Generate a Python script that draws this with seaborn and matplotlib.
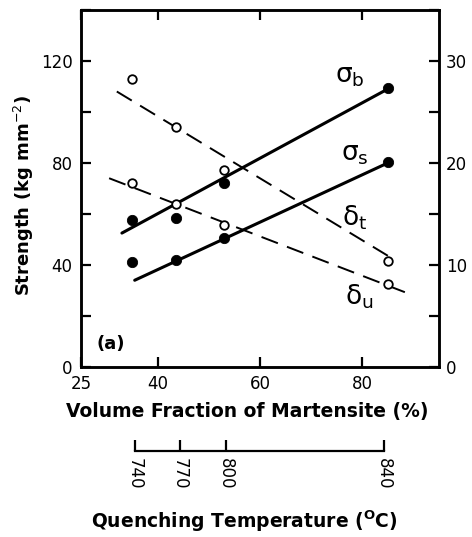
import matplotlib
matplotlib.use("Agg")
import matplotlib.pyplot as plt
import seaborn as sns
import pandas as pd

# measured points (volume fraction of martensite, %)
vol_frac = [35, 43.5, 53, 85]
sigma_b = [57.5, 58.5, 72, 109.5]   # kg mm^-2
sigma_s = [41, 42, 50.5, 80.5]      # kg mm^-2
delta_t = [28.2, 23.5, 19.3, 10.4]  # %
delta_u = [18, 16, 13.9, 8.1]       # %

# fitted lines (end points)
sigma_b_fit_x = [33, 85]
sigma_b_fit_y = [52.5, 109]
sigma_s_fit_x = [35.5, 85]
sigma_s_fit_y = [34, 80]
delta_t_fit_x = [32, 85]
delta_t_fit_y = [27, 10.9]
delta_u_fit_x = [30.5, 89]
delta_u_fit_y = [18.5, 7.2]

# quenching temperature scale and matching volume fractions
quench_temp = [740, 770, 800, 840]
quench_pos = [35.5, 44.3, 53.3, 84.3]

x_ticks = [25, 40, 60, 80]
left_ticks = list(range(0, 141, 20))
right_ticks = list(range(0, 36, 5))

sns.set_style("ticks")
plt.rcParams['font.family'] = ['DejaVu Sans']
plt.rcParams['mathtext.fontset'] = 'dejavusans'
for key in ('text.color', 'axes.labelcolor', 'xtick.color', 'ytick.color',
            'axes.edgecolor'):
    plt.rcParams[key] = 'black'

fig = plt.figure(figsize=(4.72, 5.37), dpi=100)
ax = fig.add_axes([0.1716, 0.3166, 0.7585, 0.665])
ax2 = ax.twinx()

df_pts = pd.DataFrame({'x': vol_frac, 'sb': sigma_b, 'ss': sigma_s,
                       'dt': delta_t, 'du': delta_u})

# strength (left axis)
sns.lineplot(x=sigma_b_fit_x, y=sigma_b_fit_y, ax=ax, color='black', lw=2.2)
sns.lineplot(x=sigma_s_fit_x, y=sigma_s_fit_y, ax=ax, color='black', lw=2.2)
sns.scatterplot(data=df_pts, x='x', y='sb', ax=ax, color='black', s=55,
                edgecolor='black', zorder=3)
sns.scatterplot(data=df_pts, x='x', y='ss', ax=ax, color='black', s=55,
                edgecolor='black', zorder=3)

# elongation (right axis)
sns.lineplot(x=delta_t_fit_x, y=delta_t_fit_y, ax=ax2, color='black', lw=1.4,
             dashes=False, linestyle=(0, (9, 5)))
sns.lineplot(x=delta_u_fit_x, y=delta_u_fit_y, ax=ax2, color='black', lw=1.4,
             dashes=False, linestyle=(0, (9, 5)))
sns.scatterplot(data=df_pts, x='x', y='dt', ax=ax2, facecolor='white',
                edgecolor='black', linewidth=1.3, s=38, zorder=3)
sns.scatterplot(data=df_pts, x='x', y='du', ax=ax2, facecolor='white',
                edgecolor='black', linewidth=1.3, s=38, zorder=3)

ax.set_xlim(25, 95)
ax.set_ylim(0, 140)
ax2.set_ylim(0, 35)

ax.set_xticks(x_ticks)
ax.set_xticklabels([str(v) for v in x_ticks])
ax.set_yticks(left_ticks)
ax.set_yticklabels([str(v) if v % 40 == 0 else '' for v in left_ticks])
ax2.set_yticks(right_ticks)
ax2.set_yticklabels([str(v) if v % 10 == 0 else '' for v in right_ticks])

ax.tick_params(axis='both', direction='in', length=7, width=1.6,
               labelsize=12, top=True, pad=6)
ax2.tick_params(axis='y', direction='in', length=7, width=1.6,
                labelsize=12, pad=5)
for a in (ax, ax2):
    for sp in a.spines.values():
        sp.set_linewidth(1.8)
        sp.set_visible(True)

ax.set_xlabel('Volume Fraction of Martensite (%)', fontsize=13.5,
              fontweight='bold')
ax.xaxis.set_label_coords(0.464, -0.098)
ax.set_ylabel('Strength (kg mm$^{-2}$)', fontsize=13, fontweight='bold')
ax.yaxis.set_label_coords(-0.125, 0.48)
ax2.set_ylabel('')
ax2.set_xlabel('')

# curve labels
ax.text(77.5, 114, r'$\mathrm{\sigma_b}$', fontsize=19, ha='center', va='center')
ax.text(78.5, 83.5, r'$\mathrm{\sigma_s}$', fontsize=19, ha='center', va='center')
ax.text(78.5, 58.5, r'$\mathrm{\delta_t}$', fontsize=19, ha='center', va='center')
ax.text(79.5, 27.5, r'$\mathrm{\delta_u}$', fontsize=19, ha='center', va='center')
ax.text(28, 9, '(a)', fontsize=13, fontweight='bold', ha='left', va='center')

# quenching temperature scale
axt = fig.add_axes([0.1716, 0.160, 0.7585, 0.02])
axt.set_xlim(25, 95)
axt.set_ylim(0, 1)
axt.patch.set_visible(False)
for side in ('left', 'right', 'top'):
    axt.spines[side].set_visible(False)
axt.spines['bottom'].set_bounds(quench_pos[0], quench_pos[-1])
axt.spines['bottom'].set_linewidth(1.6)
axt.set_yticks([])
axt.set_xticks(quench_pos)
axt.set_xticklabels([str(t) for t in quench_temp], rotation=270)
axt.tick_params(axis='x', direction='in', length=8, width=1.6,
                labelsize=12, pad=5)
axt.set_xlabel('Quenching Temperature ($^{\\mathbf{O}}$C)', fontsize=13.5,
               fontweight='bold')
axt.xaxis.set_label_coords(0.455, -5.3)

fig.savefig('out.png', dpi=100)
